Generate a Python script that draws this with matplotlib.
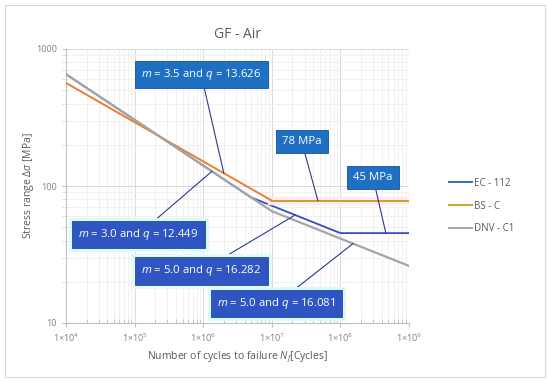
import matplotlib
matplotlib.use("Agg")
import matplotlib.pyplot as plt
from matplotlib.lines import Line2D
from matplotlib.patches import Rectangle
import matplotlib.patheffects as pe
from matplotlib.ticker import LogLocator, FixedLocator, NullFormatter

plt.rcParams['font.family'] = ['Open Sans', 'DejaVu Sans']
plt.rcParams['mathtext.fontset'] = 'custom'
plt.rcParams['mathtext.rm'] = 'Open Sans'
plt.rcParams['mathtext.it'] = 'Open Sans:italic'

# breakpoints of the S-N curves (cycles, stress range MPa)
ec_n = [1e4, 5e6, 1e8, 1e9]
ec_s = [655, 82.5, 45.3, 45.3]
bs_slope_n = [1e4, 1e7]
bs_slope_s = [565, 78.2]
bs_flat_n = [1e7, 1e9]
bs_flat_s = [78.2, 78.2]
dnv_n = [1e4, 1e7, 1e9]
dnv_s = [655, 65.5, 26.1]

x_ticks = [1e4, 1e5, 1e6, 1e7, 1e8, 1e9]
x_tick_labels = ['1×10$^{4}$', '1×10$^{5}$', '1×10$^{6}$', '1×10$^{7}$', '1×10$^{8}$', '1×10$^{9}$']
y_ticks = [10, 100, 1000]

# annotation text, target point (data), box centre (axes fraction), box colour, glow
notes = [
    ('$m$ = 3.5 and $q$ = 13.626', (2.0e6, 124), (0.394, 0.907), '#1F6FC3', None),
    ('78 MPa', (4.7e7, 78.2), (0.687, 0.662), '#1F6FC3', None),
    ('45 MPa', (4.6e8, 45.3), (0.895, 0.531), '#1F6FC3', None),
    ('$m$ = 3.0 and $q$ = 12.449', (1.34e6, 128), (0.211, 0.323), '#2F55C2', '#DDF9F9'),
    ('$m$ = 5.0 and $q$ = 16.282', (2.2e7, 61.5), (0.394, 0.190), '#2F55C2', '#E6FAFA'),
    ('$m$ = 5.0 and $q$ = 16.081', (1.53e8, 38), (0.614, 0.071), '#2F55C2', '#DDF9F9'),
]

EC_COLOR = '#3A4CC4'
EC_LEG = '#2E75B6'
BS_ORANGE = '#ED7D31'
BS_GOLD = '#C9A227'
DNV_COLOR = '#A5A5A5'
TXT = '#595959'

fig = plt.figure(figsize=(5.5, 3.82), dpi=100)
fig.patches.append(Rectangle((5 / 550, 5 / 382), 540 / 550, 372 / 382, transform=fig.transFigure,
                             fill=False, edgecolor='#D9D9D9', linewidth=0.8))
ax = fig.add_axes([66 / 550, 1 - 323 / 382, 343 / 550, 274 / 382])

ax.set_xscale('log')
ax.set_yscale('log')
ax.set_xlim(1e4, 1e9)
ax.set_ylim(10, 1000)

# lines
ax.plot(ec_n, ec_s, color=EC_COLOR, lw=1.3, zorder=3)
ax.plot(bs_flat_n, bs_flat_s, color=BS_GOLD, lw=1.4, zorder=4,
        path_effects=[pe.Stroke(linewidth=6, foreground='#FDEAF0'), pe.Normal()])
ax.plot(bs_slope_n, bs_slope_s, color=BS_ORANGE, lw=1.4, zorder=4)
ax.plot(dnv_n, dnv_s, color=DNV_COLOR, lw=1.6, zorder=5)

# grid and ticks
ax.xaxis.set_major_locator(FixedLocator(x_ticks))
ax.set_xticklabels(x_tick_labels)
ax.xaxis.set_minor_locator(LogLocator(base=10, subs=range(2, 10)))
ax.xaxis.set_minor_formatter(NullFormatter())
ax.yaxis.set_major_locator(FixedLocator(y_ticks))
ax.set_yticklabels([str(v) for v in y_ticks])
ax.yaxis.set_minor_locator(LogLocator(base=10, subs=range(2, 10)))
ax.yaxis.set_minor_formatter(NullFormatter())
ax.grid(True, which='major', color='#D9D9D9', lw=0.7)
ax.grid(True, which='minor', color='#EFEFEF', lw=0.6)
ax.set_axisbelow(True)
ax.tick_params(axis='both', which='major', labelsize=6.5, labelcolor='#7F7F7F', color='#BFBFBF', length=3)
ax.tick_params(axis='x', which='major', pad=3)
ax.tick_params(axis='x', which='minor', direction='in', length=3, color='#BFBFBF')
ax.tick_params(axis='y', which='minor', length=3, color='#D9D9D9')
for side in ['top', 'right']:
    ax.spines[side].set_visible(False)
for side in ['left', 'bottom']:
    ax.spines[side].set_color('#BFBFBF')
    ax.spines[side].set_linewidth(0.8)

ax.set_title('GF - Air', fontsize=10, color=TXT, pad=8)
ax.set_xlabel('Number of cycles to failure $N_f$[Cycles]', fontsize=7.5, color=TXT, labelpad=4)
ax.set_ylabel('Stress range $Δσ$ [MPa]', fontsize=7.5, color=TXT, labelpad=0)

# annotation boxes
for text, xy, pos, fc, glow in notes:
    t = ax.annotate(text, xy=xy, xycoords='data', xytext=pos, textcoords='axes fraction',
                    ha='center', va='center', fontsize=8.2, color='white', zorder=10,
                    bbox=dict(boxstyle='square,pad=0.55', fc=fc, ec='#17509A', lw=0.6),
                    arrowprops=dict(arrowstyle='-', color='#2B3A8C', lw=0.8, shrinkA=0, shrinkB=0))
    if glow:
        t.get_bbox_patch().set_path_effects([pe.Stroke(linewidth=5, foreground=glow), pe.Normal()])

# legend
handles = [Line2D([], [], color=EC_LEG, lw=1.4),
           Line2D([], [], color=BS_GOLD, lw=1.4),
           Line2D([], [], color=DNV_COLOR, lw=1.4)]
ax.legend(handles, ['EC - 112', 'BS - C', 'DNV - C1'], loc='center left', bbox_to_anchor=(1.09, 0.427),
          frameon=False, fontsize=7, labelcolor=TXT, handlelength=2.4, handletextpad=0.2, labelspacing=1.2)

fig.savefig('out.png', dpi=100)
